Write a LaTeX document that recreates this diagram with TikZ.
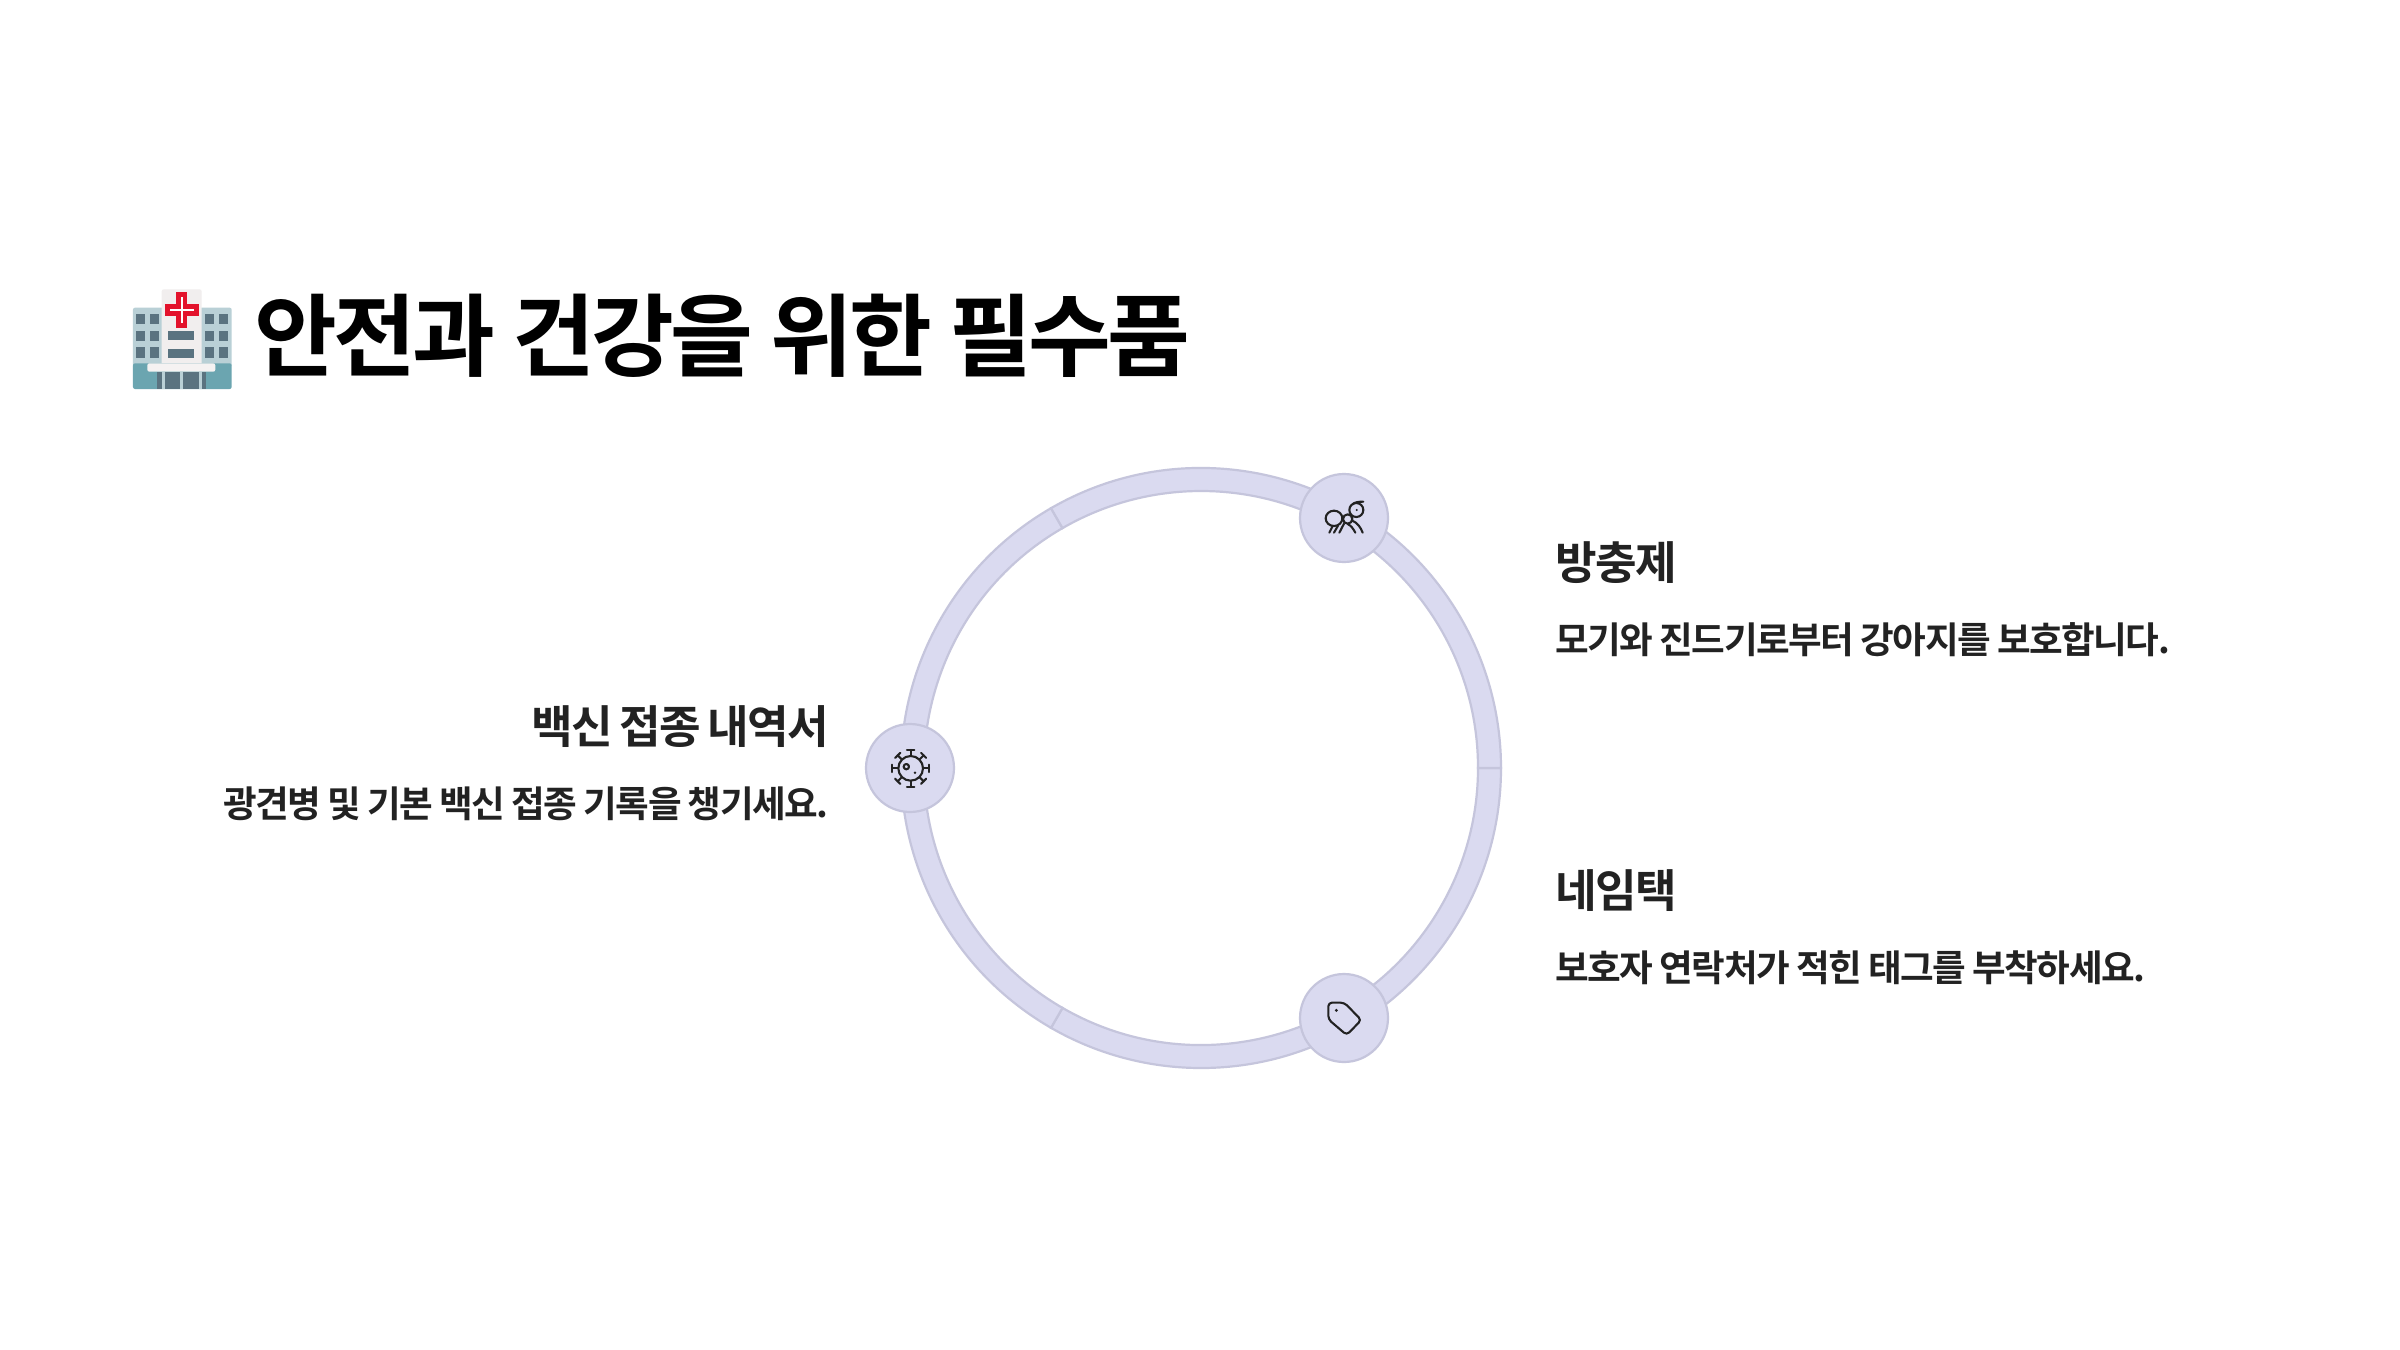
\documentclass[tikz,border=0pt]{standalone}
\usepackage{fontspec}
\newfontfamily\titlefont[LetterSpace=-4.01,WordSpace=1]{Noto Sans CJK KR Bold}
\newfontfamily\headfont[LetterSpace=-4,WordSpace=0.8]{Noto Sans CJK KR Bold}
\newfontfamily\descfont[LetterSpace=-3.99,WordSpace=0.9]{Noto Sans CJK KR Bold}
\definecolor{ringfill}{HTML}{DADAF0}
\definecolor{ringline}{HTML}{C5C5DC}
\definecolor{ink}{HTML}{222222}
\definecolor{winc}{HTML}{5A7380}
\tikzset{
  x=0.5pt,y=-0.5pt,
  ring/.style={fill=ringfill,draw=ringline,line width=1.1pt},
  hub/.style={circle,fill=ringfill,draw=ringline,line width=1.1pt,minimum size=44pt,inner sep=0pt},
  icon/.style={draw=ink,line width=1.05pt,line cap=round,line join=round,fill=none},
  head/.style={text=ink,inner sep=0pt,font=\headfont\fontsize{22.6}{26}\selectfont},
  desc/.style={text=ink,inner sep=0pt,font=\descfont\fontsize{18.3}{22}\selectfont},
  win/.style={fill=winc,draw=none},
}
\begin{document}
\begin{tikzpicture}
\useasboundingbox[fill=white] (0,0) rectangle (2400,1350);
% ring: three segments (y axis is flipped, so angles run clockwise on the page)
\foreach \a in {0,120,240}{
  \draw[ring] ({1201+300*cos(\a)},{768+300*sin(\a)}) arc[start angle=-\a,delta angle=-120,radius=150pt]
    -- ({1201+277*cos(\a+120)},{768+277*sin(\a+120)}) arc[start angle=-\a-120,delta angle=120,radius=138.5pt] -- cycle;
}
\node[hub] (ant) at (1344,518) {};
\node[hub] (virus) at (910,768) {};
\node[hub] (tag) at (1344,1018) {};
% ant icon
\begin{scope}[shift={(1260,450)},x=0.5pt/3,y=-0.5pt/3]
\draw[icon] (222,205) ellipse[x radius=25,y radius=23];
\draw[icon] (263,207) circle[radius=14];
\draw[icon] (289,180) circle[radius=21];
\fill[ink] (290,180) circle[radius=3.5];
\draw[icon] (278,163) .. controls (284,156) and (296,155) .. (310,155);
\draw[icon] (218,228) -- (208,248);
\draw[icon] (234,227) -- (222,248);
\draw[icon] (252,221) -- (238,248);
\draw[icon] (263,222) .. controls (272,226) and (280,236) .. (286,248);
\draw[icon] (277,212) .. controls (292,218) and (302,232) .. (308,248);
\end{scope}
% virus icon
\begin{scope}[shift={(850,710)},x=0.5pt/3,y=-0.5pt/3]
\draw[icon] (182,175) circle[radius=37];
\draw[icon] (169,170) circle[radius=8];
\fill[ink] (195,188) circle[radius=4];
\foreach \a in {0,45,...,315}{
  \draw[icon] ({182+37*cos(\a)},{175+37*sin(\a)}) -- ({182+55*cos(\a)},{175+55*sin(\a)});
  \draw[icon] ({182+55*cos(\a)-11*sin(\a)},{175+55*sin(\a)+11*cos(\a)}) -- ({182+55*cos(\a)+11*sin(\a)},{175+55*sin(\a)-11*cos(\a)});
}
\end{scope}
% tag icon
\begin{scope}[shift={(1260,950)},x=0.5pt/3,y=-0.5pt/3]
\draw[icon,rounded corners=1.8pt] (205,158) -- (253,158) -- (304,210) -- (260,255) -- (205,208) -- cycle;
\fill[ink] (229,181) circle[radius=5];
\end{scope}
% hospital emoji
\begin{scope}[shift={(110,260)},x=0.5pt/3,y=-0.5pt/3]
\fill[rounded corners=1pt,fill={rgb,255:red,185;green,208;blue,214}] (69,143) rectangle (365,320);
\fill[rounded corners=1pt,fill={rgb,255:red,241;green,238;blue,238}] (155,88) rectangle (275,320);
\fill[rounded corners=1pt,fill={rgb,255:red,107;green,165;blue,176}] (69,310) rectangle (365,387);
\foreach \xx in {78,119,285,327}{\foreach \yy in {162,212,262}{\fill[win] (\xx,\yy) rectangle +(28,31);}}
\fill[win] (175,212) rectangle (253,241);
\fill[win] (175,266) rectangle (253,294);
\fill[win] (141,335) rectangle (288,387);
\foreach \xx in {156,211,266}{\fill[fill={rgb,255:red,185;green,208;blue,214}] (\xx,335) rectangle +(9,52);}
\fill[rounded corners=1pt,fill={rgb,255:red,245;green,242;blue,242}] (112,310) rectangle (316,335);
\fill[fill={rgb,255:red,227;green,19;blue,44}] (198,96) rectangle (232,203);
\fill[fill={rgb,255:red,227;green,19;blue,44}] (164,132) rectangle (267,167);
\fill[white] (213,111) rectangle (218,188);
\fill[white] (179,147) rectangle (252,152);
\end{scope}
% texts
\node[anchor=west,inner sep=0pt,text=black,font=\titlefont\fontsize{45}{53}\selectfont] (title) at (254,336) {안전과 건강을 위한 필수품};
\node[head,anchor=west] (h1) at (1555,563) {방충제};
\node[desc,anchor=west] (d1) at (1555,640) {모기와 진드기로부터 강아지를 보호합니다.};
\node[head,anchor=west] (h2) at (1555,891) {네임택};
\node[desc,anchor=west] (d2) at (1555,968) {보호자 연락처가 적힌 태그를 부착하세요.};
\node[head,anchor=east] (h3) at (829,727) {백신 접종 내역서};
\node[desc,anchor=east] (d3) at (829,804) {광견병 및 기본 백신 접종 기록을 챙기세요.};
\end{tikzpicture}
\end{document}
